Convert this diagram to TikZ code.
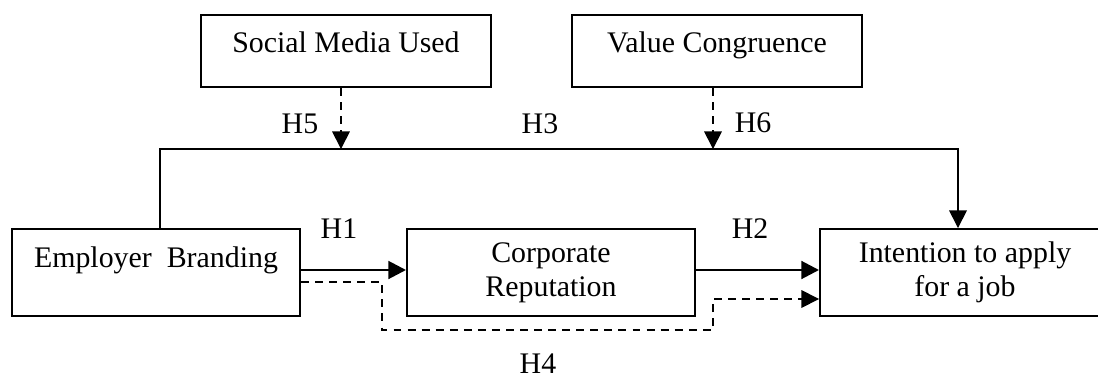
\documentclass[tikz,border=0pt]{standalone}
\usepackage{fontspec}
\setmainfont{Liberation Serif}
\usepackage{tikz}
\usetikzlibrary{arrows.meta,positioning,calc}

\begin{document}
\begin{tikzpicture}[
        varbox/.style={rectangle, draw=black, line width=1.1pt, fill=white,
                       minimum width=5.76cm, minimum height=1.74cm, align=center,
                       font=\fontsize{17}{19.3}\selectfont},
        onebox/.style={varbox, text height=0.45cm, text depth=0.65cm},
        modbox/.style={varbox, minimum width=5.8cm, minimum height=1.44cm,
                       text height=0.45cm, text depth=0.41cm},
        hlbl/.style={font=\fontsize{17}{19.3}\selectfont, inner sep=0pt},
        solidarr/.style={-{Triangle[length=10pt,width=10pt]}, line width=1.6pt},
        dasharr/.style={-{Triangle[length=10pt,width=10pt]}, line width=0.9pt,
                        dash pattern=on 4.5pt off 3.5pt}
      ]
        \useasboundingbox[fill=white] (0,0) rectangle (21.96,7.58);
        % boxes
        \node[modbox] (smu) at (6.92,6.56) {Social Media Used};
        \node[modbox] (vcg) at (14.34,6.56) {Value Congruence};
        \node[onebox] (emb) at (3.12,2.13) {Employer \ Branding};
        \node[varbox] (crp) at (11.02,2.13) {Corporate\\Reputation};
        \node[varbox, minimum width=5.8cm] (ija) at (19.3,2.13) {Intention to apply\\for a job};
        % direct paths
        \draw[solidarr] ([yshift=0.05cm]emb.east) -- ([yshift=0.05cm]crp.west);
        \draw[solidarr] ([yshift=0.05cm]crp.east) -- ([yshift=0.05cm]ija.west);
        \draw[line width=0.9pt, -{Triangle[length=10pt,width=10pt]}]
          ([xshift=0.08cm]emb.north) -- ++(0,1.58) coordinate (h3l)
          -| ([xshift=-0.14cm]ija.north);
        % moderators
        \draw[dasharr] ([xshift=-0.1cm]smu.south) -- ([xshift=-0.1cm]smu.south |- h3l);
        \draw[dasharr] ([xshift=-0.08cm]vcg.south) -- ([xshift=-0.08cm]vcg.south |- h3l);
        % mediation
        \draw[dasharr] ([yshift=-0.19cm]emb.east) -- ++(1.62,0) |- (14.26,0.98)
          |- ([yshift=-0.53cm]ija.west);
        % hypothesis labels
        \node[hlbl] (h1) at (6.78,3.0) {H1};
        \node[hlbl] (h2) at (15.0,3.0) {H2};
        \node[hlbl] (h3) at (10.8,5.1) {H3};
        \node[hlbl] (h4) at (10.76,0.3) {H4};
        \node[hlbl] (h5) at (6.0,5.1) {H5};
        \node[hlbl] (h6) at (15.06,5.12) {H6};
      \end{tikzpicture}
\end{document}
